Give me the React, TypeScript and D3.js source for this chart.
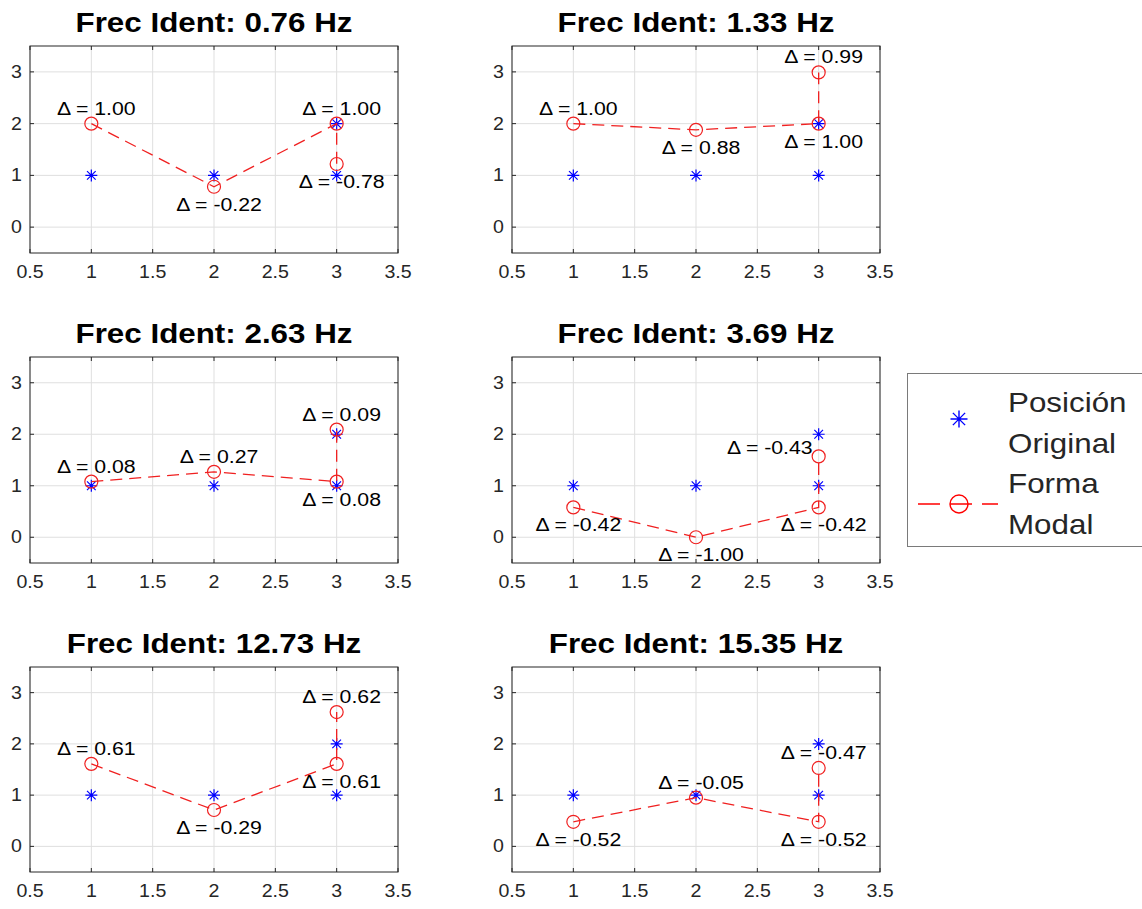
import React from 'react'
import * as d3 from 'd3'

// identified frequencies (Hz), one per subplot
const freqs = [0.76, 1.33, 2.63, 3.69, 12.73, 15.35]

// nodes of the structure: x position and original height
const nodeX = [1, 2, 3, 3]
const originalY = [1, 1, 1, 2]

// modal displacement of each node, per mode
const deltaMode1 = [1.0, -0.22, 1.0, -0.78]
const deltaMode2 = [1.0, 0.88, 1.0, 0.99]
const deltaMode3 = [0.08, 0.27, 0.08, 0.09]
const deltaMode4 = [-0.42, -1.0, -0.42, -0.43]
const deltaMode5 = [0.61, -0.29, 0.61, 0.62]
const deltaMode6 = [-0.52, -0.05, -0.52, -0.47]
const deltas = [deltaMode1, deltaMode2, deltaMode3, deltaMode4, deltaMode5, deltaMode6]

const xTicks = [0.5, 1, 1.5, 2, 2.5, 3, 3.5]
const yTicks = [0, 1, 2, 3]

// where the delta label sits: a = above, b = below, l = above left
const labelSide = [
  ['a', 'b', 'a', 'b'],
  ['a', 'b', 'b', 'a'],
  ['a', 'a', 'b', 'a'],
  ['b', 'b', 'b', 'l'],
  ['a', 'b', 'b', 'a'],
  ['b', 'a', 'b', 'a'],
]

const W = 1142
const H = 909
const FONT = '"Liberation Sans", Arial, sans-serif'
const SX = 1.12
const cols = [[30, 398], [512, 880]]
const rows = [[46, 253], [357, 563], [667, 872]]

function starPath(cx, cy, r) {
  const k = r * 0.72
  return `M${cx - r},${cy}H${cx + r}M${cx},${cy - r}V${cy + r}` +
    `M${cx - k},${cy - k}L${cx + k},${cy + k}M${cx - k},${cy + k}L${cx + k},${cy - k}`
}

function Txt({ x, y, size, anchor = 'middle', weight = 'normal', fill = '#262626', base = 'auto', children }) {
  return (
    <text
      transform={`translate(${x},${y}) scale(${SX},1)`}
      fontFamily={FONT}
      fontSize={size}
      fontWeight={weight}
      textAnchor={anchor}
      dominantBaseline={base}
      fill={fill}
    >
      {children}
    </text>
  )
}

function Panel({ i }) {
  const [x0, x1] = cols[i % 2]
  const [y0, y1] = rows[Math.floor(i / 2)]
  const x = d3.scaleLinear().domain([0.5, 3.5]).range([x0, x1])
  const y = d3.scaleLinear().domain([-0.5, 3.5]).range([y1, y0])
  const modal = nodeX.map((nx, j) => [nx, originalY[j] + deltas[i][j]])
  const line = d3.line().x(d => x(d[0])).y(d => y(d[1]))

  return (
    <g>
      <rect x={x0} y={y0} width={x1 - x0} height={y1 - y0} fill="#fff" />
      {xTicks.map(t => (
        <line key={'gx' + t} x1={x(t)} x2={x(t)} y1={y0} y2={y1} stroke="#dfdfdf" />
      ))}
      {yTicks.map(t => (
        <line key={'gy' + t} x1={x0} x2={x1} y1={y(t)} y2={y(t)} stroke="#dfdfdf" />
      ))}
      {xTicks.map(t => (
        <g key={'tx' + t}>
          <line x1={x(t)} x2={x(t)} y1={y1} y2={y1 - 4} stroke="#262626" />
          <line x1={x(t)} x2={x(t)} y1={y0} y2={y0 + 4} stroke="#262626" />
          <Txt x={x(t)} y={y1 + 25} size={17.5}>{String(t)}</Txt>
        </g>
      ))}
      {yTicks.map(t => (
        <g key={'ty' + t}>
          <line x1={x0} x2={x0 + 4} y1={y(t)} y2={y(t)} stroke="#262626" />
          <line x1={x1} x2={x1 - 4} y1={y(t)} y2={y(t)} stroke="#262626" />
          <Txt x={x0 - 8} y={y(t) + 6} size={17.5} anchor="end">{String(t)}</Txt>
        </g>
      ))}
      {nodeX.map((nx, j) => (
        <path key={'s' + j} d={starPath(x(nx), y(originalY[j]), 6)} stroke="#0000ff" strokeWidth={1.2} fill="none" />
      ))}
      <path d={line(modal)} fill="none" stroke="#f02020" strokeWidth={1.3} strokeDasharray="12,7" />
      {modal.map((p, j) => (
        <circle key={'c' + j} cx={x(p[0])} cy={y(p[1])} r={6.5} fill="none" stroke="#f02020" strokeWidth={1.2} />
      ))}
      {modal.map((p, j) => {
        const side = labelSide[i][j]
        const px = x(p[0])
        const py = y(p[1])
        const label = `Δ = ${deltas[i][j].toFixed(2)}`
        if (side === 'l') {
          return <Txt key={'l' + j} x={px - 6} y={py - 2} size={19} anchor="end" fill="#000">{label}</Txt>
        }
        const dy = side === 'a' ? -9 : 24
        return <Txt key={'l' + j} x={px + 5} y={py + dy} size={19} fill="#000">{label}</Txt>
      })}
      <rect x={x0} y={y0} width={x1 - x0} height={y1 - y0} fill="none" stroke="#262626" strokeWidth={1} />
      <Txt x={(x0 + x1) / 2} y={y0 - 14} size={28} weight="bold" fill="#000">
        {`Frec Ident: ${freqs[i].toFixed(2)} Hz`}
      </Txt>
    </g>
  )
}

function Legend() {
  const lx = 907.5
  const ly = 373.5
  return (
    <g>
      <rect x={lx} y={ly} width={260} height={173} fill="#fff" stroke="#7a7a7a" strokeWidth={1} />
      <path d={starPath(959, 419, 8.5)} stroke="#0000ff" strokeWidth={1.4} fill="none" />
      <line x1={918} x2={998} y1={504} y2={504} stroke="#ff0000" strokeWidth={1.4} strokeDasharray="22,10" />
      <circle cx={959} cy={504} r={9} fill="none" stroke="#ff0000" strokeWidth={1.4} />
      <Txt x={1008} y={412} size={28} anchor="start" fill="#262626">Posición</Txt>
      <Txt x={1008} y={453} size={28} anchor="start" fill="#262626">Original</Txt>
      <Txt x={1008} y={493} size={28} anchor="start" fill="#262626">Forma</Txt>
      <Txt x={1008} y={534} size={28} anchor="start" fill="#262626">Modal</Txt>
    </g>
  )
}

export default function App() {
  return (
    <svg width={W} height={H} style={{ position: 'absolute', left: 0, top: 0, background: '#fff' }}>
      <rect width={W} height={H} fill="#fff" />
      {freqs.map((f, i) => <Panel key={f} i={i} />)}
      <Legend />
    </svg>
  )
}
